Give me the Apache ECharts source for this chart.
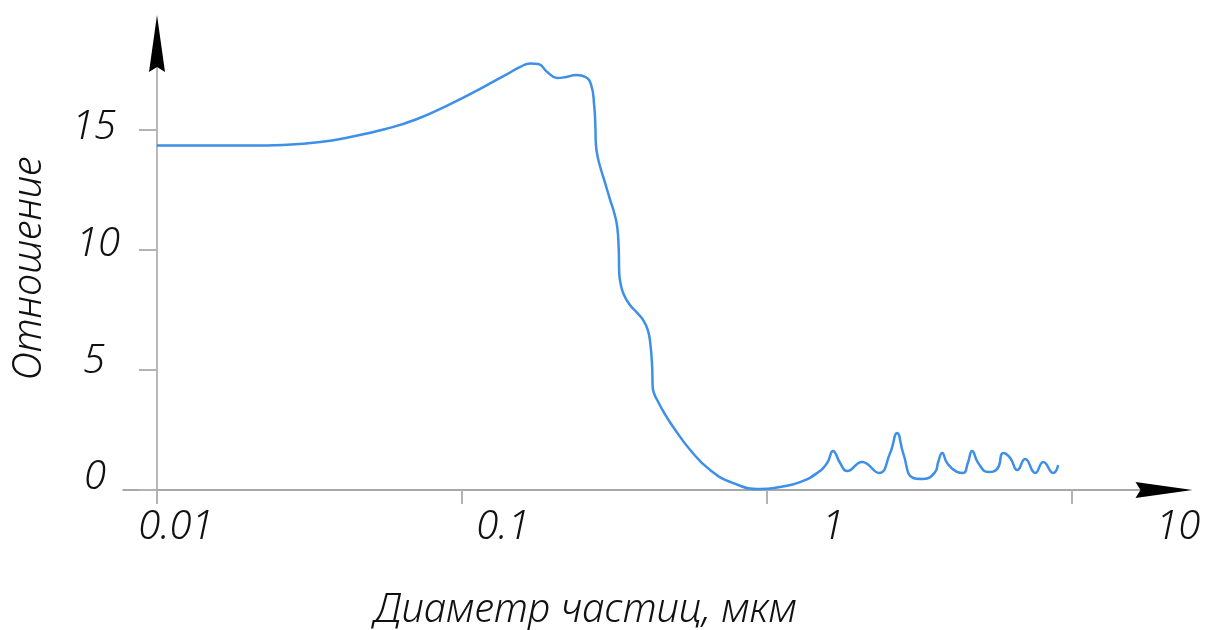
<!DOCTYPE html>
<html><head><meta charset="utf-8">
<script src="https://cdn.jsdelivr.net/npm/echarts@6/dist/echarts.min.js"></script>
<style>html,body{margin:0;padding:0;background:#fff}#c{width:1207px;height:630px}</style>
</head><body><div id="c"></div>
<script>
const diameters = [0.0100, 0.0139, 0.0202, 0.0259, 0.0343, 0.0430, 0.0561, 0.0713, 0.0915, 0.1175,
  0.1406, 0.1552, 0.1674, 0.1778, 0.1902, 0.2050, 0.2197, 0.2366, 0.2535, 0.2650,
  0.2711, 0.2735, 0.2748, 0.2785, 0.2838, 0.2924, 0.3060, 0.3155, 0.3227, 0.3264,
  0.3276, 0.3313, 0.3375, 0.3532, 0.3750, 0.3926, 0.4063, 0.4140, 0.4200, 0.4217,
  0.4281, 0.4363, 0.4601, 0.4923, 0.5598, 0.6511, 0.7745, 0.949,
  1.104, 1.283, 1.459, 1.574, 1.645, 1.735, 1.829, 2.048, 2.328, 2.531,
  2.668, 2.793, 3.013, 3.249, 3.556, 3.639, 3.749, 3.891, 4.198, 4.394,
  4.560, 4.699, 4.920, 5.306, 5.680, 5.945, 6.268, 6.607, 7.015, 7.568,
  8.040, 8.669, 9.000];
const ratios = [14.35, 14.35, 14.35, 14.38, 14.5, 14.71, 15.04, 15.46, 16.08, 16.79,
  17.33, 17.63, 17.77, 17.75, 17.42, 17.17, 17.21, 17.29, 17.21, 16.88,
  16.04, 15.21, 14.38, 13.88, 13.46, 12.92, 12.08, 11.54, 10.96, 10.0,
  9.04, 8.58, 8.21, 7.75, 7.38, 7.08, 6.67, 6.13, 5.13, 4.29,
  3.96, 3.75, 3.21, 2.63, 1.67, 0.83, 0.29, 0.04,
  0.13, 0.33, 0.71, 1.13, 1.63, 1.13, 0.79, 1.17, 0.71, 1.54,
  2.38, 1.54, 0.5, 0.46, 0.75, 1.17, 1.54, 1.13, 0.75, 0.71,
  1.17, 1.63, 1.13, 0.75, 0.88, 1.54, 1.33, 0.83, 1.29, 0.71,
  1.17, 0.71, 1.04];
const xTickValues = [0.01, 0.1, 1, 10];
const xTickLabels = ['0.01', '0.1', '1', '10'];
const yTickValues = [0, 5, 10, 15];
const yTickLabels = ['0', '5', '10', '15'];
const xName = 'Диаметр частиц, мкм';
const yName = 'Отношение';

const X_MIN = 0.00774, X_MAX = 20;
const Y_MIN = -0.54, Y_MAX = 18.6;

const FONT = "'Noto Sans', 'DejaVu Sans', sans-serif";
const base = {fontFamily: FONT, fontStyle: 'italic', fontWeight: 300, fontSize: 40, color: '#111'};
const xPads = [[0,0,0,38],[0,0,0,82],[0,0,0,132],[0,0,0,212]];
const yPads = [[0,14,24,0],[0,15,17,0],[0,0,11,0],[0,4,4,0]];
const xRich = {}, yRich = {};
xPads.forEach((p, i) => { xRich['l' + i] = Object.assign({}, base, {padding: p}); });
yPads.forEach((p, i) => { yRich['r' + i] = Object.assign({}, base, {padding: p}); });

function nearestIndex(arr, v, log) {
  let best = 0, bd = Infinity;
  arr.forEach((a, i) => { const d = log ? Math.abs(Math.log10(a) - Math.log10(v)) : Math.abs(a - v); if (d < bd) { bd = d; best = i; } });
  return best;
}

const ARROW = 'path://M8,0 L16,57 L8,52 L0,57 Z';

const chart = echarts.init(document.getElementById('c'), null, {renderer: 'canvas'});
chart.setOption({
  animation: false,
  backgroundColor: '#fff',
  grid: {left: 123, right: 43, top: 43.6, bottom: 127, containLabel: false, outerBoundsMode: 'none'},
  xAxis: [{
    type: 'log', logBase: 10, min: X_MIN, max: X_MAX, position: 'bottom',
    axisLine: {show: true, onZero: true, onZeroAxisIndex: 0, lineStyle: {color: '#8c8c8c', width: 1.5}},
    axisTick: {show: true, length: 14, customValues: xTickValues, lineStyle: {color: '#b3b3b3', width: 2}},
    axisLabel: {show: true, customValues: xTickValues, margin: 5,
      formatter: v => { const i = nearestIndex(xTickValues, v, true); return '{l' + i + '|' + xTickLabels[i] + '}'; },
      rich: xRich},
    splitLine: {show: false}, minorTick: {show: false}, minorSplitLine: {show: false},
    name: xName, nameLocation: 'middle', nameGap: 88,
    nameTextStyle: Object.assign({}, base, {padding: [0, 116, 0, 0]})
  }, {
    type: 'log', logBase: 10, min: X_MIN, max: X_MAX, position: 'bottom',
    axisLine: {show: true, onZero: true, onZeroAxisIndex: 0, symbol: ['none', ARROW], symbolSize: [16, 57],
      lineStyle: {color: '#000', width: 0}},
    axisTick: {show: false}, axisLabel: {show: false}, splitLine: {show: false}
  }],
  yAxis: [{
    type: 'value', min: Y_MIN, max: Y_MAX, position: 'left', offset: -34,
    axisLine: {show: true, onZero: false, lineStyle: {color: '#b8b8b8', width: 2}},
    axisTick: {show: true, length: 18, customValues: yTickValues, lineStyle: {color: '#b3b3b3', width: 2}},
    axisLabel: {show: true, customValues: yTickValues, margin: 37,
      formatter: v => { const i = nearestIndex(yTickValues, v, false); return '{r' + i + '|' + yTickLabels[i] + '}'; },
      rich: yRich},
    splitLine: {show: false},
    name: yName, nameLocation: 'middle', nameGap: 107,
    nameTextStyle: Object.assign({}, base, {padding: [0, 0, 0, 10]})
  }, {
    type: 'value', min: Y_MIN, max: Y_MAX, position: 'left', offset: -34,
    axisLine: {show: true, onZero: false, symbol: ['none', ARROW], symbolSize: [16, 57],
      lineStyle: {color: '#000', width: 0}},
    axisTick: {show: false}, axisLabel: {show: false}, splitLine: {show: false}
  }],
  series: [{
    type: 'line', xAxisIndex: 0, yAxisIndex: 0,
    data: diameters.map((d, i) => [d, ratios[i]]),
    showSymbol: false, smooth: 0.5, clip: false,
    lineStyle: {color: '#3d8fe8', width: 2.5}
  }]
});
</script>
</body></html>
